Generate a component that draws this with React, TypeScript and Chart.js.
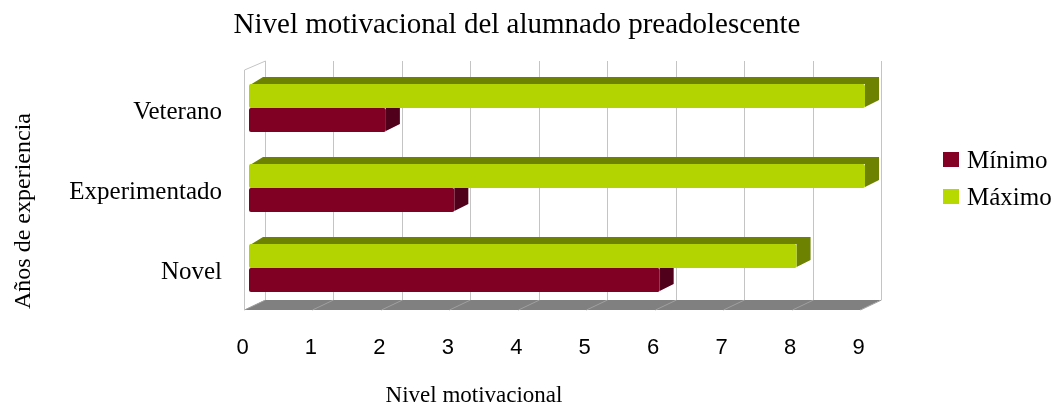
import { useEffect, useRef } from 'react';
import { Chart, registerables } from 'chart.js';

Chart.register(...registerables);

const categories = ['Veterano', 'Experimentado', 'Novel'];
const minimo = [2, 3, 6];
const maximo = [9, 9, 8];
const xTicks = [0, 1, 2, 3, 4, 5, 6, 7, 8, 9];
const seriesNames = ['Máximo', 'Mínimo'];
const titleText = 'Nivel motivacional del alumnado preadolescente';
const xTitle = 'Nivel motivacional';
const yTitle = 'Años de experiencia';

const RED = '#840024';
const RED_DARK = '#50001a';
const GREEN = '#b8d900';
const GREEN_DARK = '#6c8200';
const SERIF = '"Liberation Serif", "Times New Roman", serif';

const threeD = {
  id: 'threeD',
  beforeDatasetsDraw(chart: any) {
    const { ctx, chartArea: a, scales } = chart;
    const xs = scales.x;
    const FX = -5, FY = 2, BX = 16, BY = -8;
    const DX = 14, DY = -7;
    const px = (v: number) => xs.getPixelForValue(v);
    const x0 = px(xTicks[0]);
    const xN = px(xTicks[xTicks.length - 1]);
    ctx.save();
    // floor
    ctx.fillStyle = '#808080';
    ctx.beginPath();
    ctx.moveTo(x0 + FX, a.bottom + FY);
    ctx.lineTo(xN + FX, a.bottom + FY);
    ctx.lineTo(xN + BX, a.bottom + BY);
    ctx.lineTo(x0 + BX, a.bottom + BY);
    ctx.closePath();
    ctx.fill();
    ctx.lineWidth = 1;
    ctx.strokeStyle = '#a0a0a0';
    xTicks.forEach((v) => {
      const p = Math.round(px(v)) + 0.5;
      ctx.beginPath();
      ctx.moveTo(p + FX, a.bottom + FY);
      ctx.lineTo(p + BX, a.bottom + BY);
      ctx.stroke();
    });
    // back wall grid
    ctx.strokeStyle = '#c4c4c4';
    xTicks.forEach((v) => {
      const p = Math.round(px(v)) + 0.5;
      ctx.beginPath();
      ctx.moveTo(p + BX, a.top + BY + 1);
      ctx.lineTo(p + BX, a.bottom + BY);
      ctx.stroke();
    });
    // left wall
    const lx = Math.round(x0) + 0.5;
    ctx.beginPath();
    ctx.moveTo(lx + FX, a.bottom + FY);
    ctx.lineTo(lx + FX, a.top + FY);
    ctx.lineTo(lx + BX, a.top + BY + 1);
    ctx.stroke();
    // 3D faces of bars
    chart.data.datasets.forEach((ds: any, i: number) => {
      const meta = chart.getDatasetMeta(i);
      ctx.fillStyle = ds.sideColor;
      meta.data.forEach((el: any) => {
        const { x, y, base, height } = el.getProps(['x', 'y', 'base', 'height'], true);
        const top = y - height / 2;
        const bottom = y + height / 2;
        ctx.beginPath();
        ctx.moveTo(base + 1, top + 1);
        ctx.lineTo(base + DX, top + DY);
        ctx.lineTo(x + DX, top + DY);
        ctx.lineTo(x + DX, bottom + DY - 1);
        ctx.lineTo(x, bottom - 1);
        ctx.lineTo(x, top);
        ctx.closePath();
        ctx.fill();
      });
    });
    ctx.restore();
  },
  afterDraw(chart: any) {
    const { ctx } = chart;
    ctx.save();
    ctx.fillStyle = '#000';
    // title
    ctx.font = `29px ${SERIF}`;
    ctx.textAlign = 'center';
    ctx.textBaseline = 'alphabetic';
    ctx.fillText(titleText, 517, 33);
    // x title
    ctx.font = `23px ${SERIF}`;
    ctx.fillText(xTitle, 474, 402);
    // y title
    ctx.save();
    ctx.translate(30, 211);
    ctx.rotate(-Math.PI / 2);
    ctx.font = `24px ${SERIF}`;
    ctx.fillText(yTitle, 0, 0);
    ctx.restore();
    // legend (reverse order)
    ctx.font = `25px ${SERIF}`;
    ctx.textAlign = 'left';
    const ds = chart.data.datasets.slice().reverse();
    ds.forEach((d: any, i: number) => {
      const y = 152 + i * 37;
      ctx.fillStyle = d.legendColor;
      ctx.fillRect(943, y, 16, 15);
      ctx.fillStyle = '#000';
      ctx.fillText(d.label, 967, y + 16);
    });
    ctx.restore();
  },
};

function frontFill(base: string, light: string) {
  return (c: any) => {
    const el = c.element;
    if (!el || el.y === undefined || !el.height) return base;
    const top = el.y - el.height / 2;
    const g = c.chart.ctx.createLinearGradient(0, top, 0, top + el.height);
    g.addColorStop(0, base);
    g.addColorStop(0.3, light);
    g.addColorStop(1, base);
    return g;
  };
}

export default function App() {
  const ref = useRef<HTMLCanvasElement>(null);
  useEffect(() => {
    document.body.style.margin = '0';
    const chart = new Chart(ref.current as HTMLCanvasElement, {
      type: 'bar',
      data: {
        labels: categories,
        datasets: [
          {
            label: seriesNames[0],
            data: maximo,
            backgroundColor: frontFill('#b3d400', '#bfe000'),
            legendColor: GREEN,
            sideColor: GREEN_DARK,
            borderRadius: 2,
            borderSkipped: false,
            categoryPercentage: 0.6,
            barPercentage: 1,
          } as any,
          {
            label: seriesNames[1],
            data: minimo,
            backgroundColor: frontFill('#7f0022', '#8a0026'),
            legendColor: RED,
            sideColor: RED_DARK,
            borderRadius: 2,
            borderSkipped: false,
            categoryPercentage: 0.6,
            barPercentage: 1,
          } as any,
        ],
      },
      options: {
        indexAxis: 'y',
        responsive: false,
        animation: false,
        layout: { padding: { top: 68, right: 186, left: 0, bottom: 0 } },
        plugins: {
          legend: { display: false },
          title: { display: false },
          tooltip: { enabled: false },
        },
        scales: {
          x: {
            type: 'linear',
            min: 0,
            max: 9,
            grid: { display: false, drawTicks: false },
            border: { display: false },
            ticks: {
              stepSize: 1,
              padding: 27,
              labelOffset: -6.5,
              color: '#000',
              font: { family: '"Liberation Sans", Arial, sans-serif', size: 22 },
            },
            afterFit: (s: any) => {
              s.height = 97;
            },
          },
          y: {
            grid: { display: false, drawTicks: false },
            border: { display: false },
            ticks: {
              padding: 27,
              labelOffset: 4,
              color: '#000',
              font: { family: SERIF, size: 25 },
            },
            afterFit: (s: any) => {
              s.width = 249;
            },
          },
        },
      },
      plugins: [threeD],
    } as any);
    return () => chart.destroy();
  }, []);
  return <canvas ref={ref} width={1051} height={405} />;
}
